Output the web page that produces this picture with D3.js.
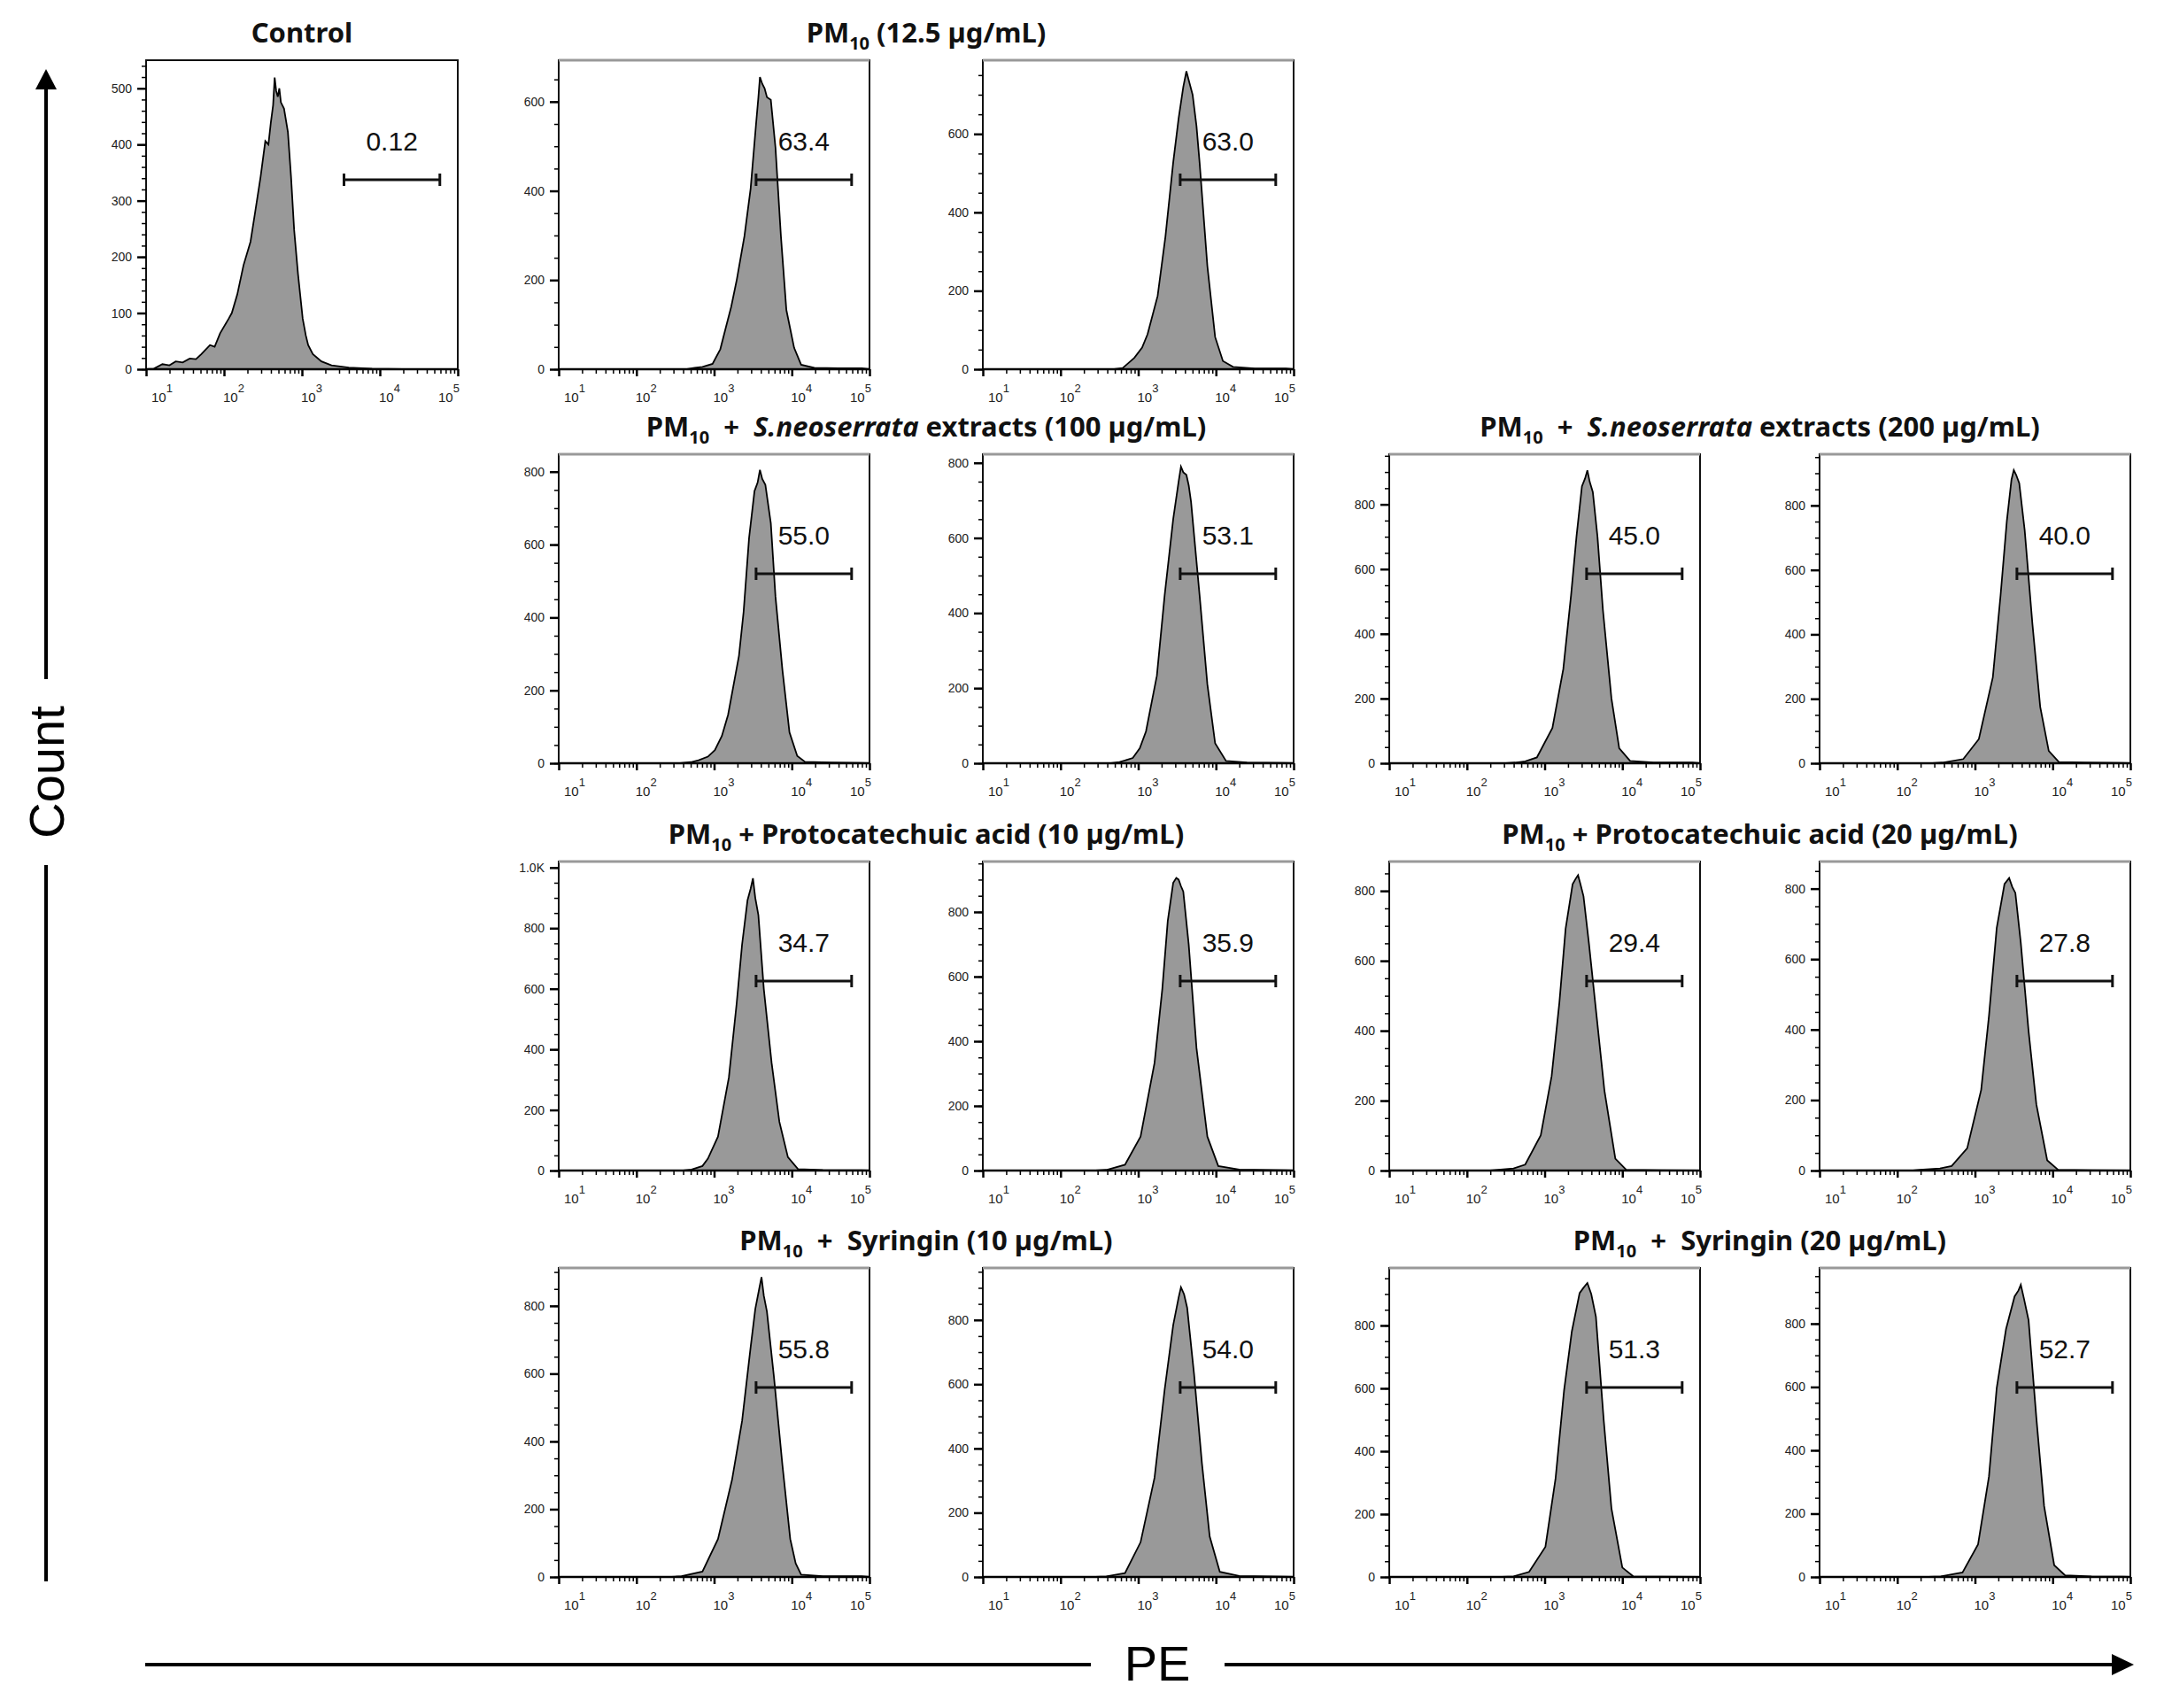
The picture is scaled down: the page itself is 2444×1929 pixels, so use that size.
<!DOCTYPE html>
<html>
<head>
<meta charset="utf-8">
<script src="https://cdn.jsdelivr.net/npm/d3@7"></script>
<style>
  body { margin: 0; background: #fff; }
  text { font-family: "Liberation Sans", Arial, sans-serif; }
  .title { font-family: "Noto Sans", sans-serif; font-weight: bold; font-size: 31px; white-space: pre; }
  .tick text { font-size: 14px; fill: #222; }
</style>
</head>
<body>
<div id="chart"></div>
<script>
// histogram curves: [log10(PE), count]
var hControl = [[1,0],[1.10,1],[1.21,9],[1.30,7],[1.38,14],[1.47,12],[1.56,19],[1.64,18],[1.71,27],[1.82,43],[1.88,40],[1.95,64],[2.06,90],[2.10,100],[2.17,133],[2.25,185],[2.34,227],[2.40,280],[2.47,343],[2.53,406],[2.57,400],[2.60,438],[2.63,470],[2.65,519],[2.67,495],[2.69,485],[2.71,500],[2.73,475],[2.77,464],[2.82,422],[2.86,343],[2.90,248],[2.95,169],[3.01,90],[3.05,60],[3.08,43],[3.14,27],[3.25,14],[3.38,7],[3.60,3],[3.90,1],[4.3,0],[5,0]];
var hPM10a = [[1,0],[2.65,0],[2.75,3],[2.85,5],[2.98,12],[3.08,45],[3.15,93],[3.22,140],[3.29,199],[3.39,298],[3.47,405],[3.54,550],[3.57,610],[3.59,655],[3.62,640],[3.65,630],[3.68,610],[3.73,604],[3.79,497],[3.86,298],[3.93,133],[4.03,48],[4.12,10],[4.29,3],[4.6,2],[4.9,2],[5,0]];
var hPM10b = [[1,0],[2.69,0],[2.80,3],[2.95,29],[3.05,55],[3.12,89],[3.25,187],[3.35,338],[3.45,527],[3.52,640],[3.58,720],[3.62,760],[3.66,730],[3.70,700],[3.75,620],[3.79,527],[3.89,263],[3.99,82],[4.09,21],[4.22,6],[4.5,2],[4.9,2],[5,0]];
var hSn100a = [[1,0],[2.56,0],[2.70,3],[2.80,8],[2.92,18],[3.01,36],[3.10,75],[3.18,133],[3.32,295],[3.38,416],[3.45,618],[3.52,747],[3.56,770],[3.59,805],[3.62,780],[3.66,764],[3.73,659],[3.79,457],[3.88,255],[3.97,85],[4.07,20],[4.17,4],[4.5,2],[4.9,1],[5,0]];
var hSn100b = [[1,0],[2.65,0],[2.76,3],[2.93,14],[3.02,40],[3.10,85],[3.24,233],[3.34,447],[3.45,650],[3.52,750],[3.55,790],[3.58,775],[3.62,768],[3.65,740],[3.68,696],[3.79,447],[3.89,210],[3.99,53],[4.13,6],[4.4,2],[4.9,1],[5,0]];
var hSn200a = [[1,0],[2.50,0],[2.62,2],[2.75,6],[2.90,18],[3.10,109],[3.24,291],[3.34,519],[3.41,701],[3.48,856],[3.52,880],[3.55,905],[3.58,870],[3.62,838],[3.68,701],[3.75,474],[3.86,200],[3.96,46],[4.10,7],[4.4,2],[4.9,2],[5,0]];
var hSn200b = [[1,0],[2.45,0],[2.58,2],[2.85,13],[3.05,75],[3.23,267],[3.33,522],[3.41,751],[3.47,880],[3.50,910],[3.53,895],[3.57,869],[3.64,723],[3.74,431],[3.84,175],[3.95,38],[4.08,4],[4.4,2],[4.9,1],[5,0]];
var hPca10a = [[1,0],[2.60,0],[2.71,3],[2.85,15],[2.92,39],[3.05,112],[3.19,307],[3.29,551],[3.36,746],[3.43,892],[3.47,930],[3.50,965],[3.53,900],[3.57,843],[3.64,599],[3.74,356],[3.84,161],[3.95,44],[4.08,5],[4.4,2],[4.9,1],[5,0]];
var hPca10b = [[1,0],[2.45,0],[2.59,2],[2.83,18],[3.03,105],[3.21,333],[3.31,562],[3.38,772],[3.45,890],[3.49,905],[3.52,900],[3.55,880],[3.58,863],[3.65,699],[3.75,379],[3.89,105],[4.03,14],[4.3,3],[4.9,1],[5,0]];
var hPca20a = [[1,0],[2.30,0],[2.40,2],[2.60,6],[2.75,17],[2.95,101],[3.09,270],[3.19,481],[3.27,692],[3.36,819],[3.40,835],[3.43,845],[3.46,820],[3.50,785],[3.57,650],[3.67,439],[3.77,228],[3.91,34],[4.05,2],[4.5,1],[5,0]];
var hPca20b = [[1,0],[2.20,0],[2.29,2],[2.55,6],[2.70,13],[2.90,63],[3.08,229],[3.18,438],[3.28,688],[3.38,813],[3.44,830],[3.48,805],[3.52,788],[3.59,646],[3.69,396],[3.79,188],[3.93,29],[4.07,2],[4.5,1],[5,0]];
var hSyr10a = [[1,0],[2.45,0],[2.58,2],[2.85,16],[3.05,112],[3.23,286],[3.36,460],[3.47,678],[3.53,791],[3.58,850],[3.61,885],[3.64,830],[3.68,783],[3.77,591],[3.88,329],[3.98,112],[4.05,40],[4.12,7],[4.4,2],[4.9,2],[5,0]];
var hSyr10b = [[1,0],[2.45,0],[2.59,2],[2.83,12],[3.03,108],[3.21,309],[3.34,583],[3.45,784],[3.52,870],[3.55,902],[3.59,880],[3.63,838],[3.72,628],[3.82,354],[3.92,126],[4.05,16],[4.3,3],[4.9,1],[5,0]];
var hSyr20a = [[1,0],[2.45,0],[2.60,2],[2.80,16],[3.01,96],[3.14,312],[3.25,593],[3.35,781],[3.45,903],[3.50,920],[3.55,935],[3.60,900],[3.66,828],[3.76,500],[3.86,218],[4.00,30],[4.14,2],[4.5,1],[5,0]];
var hSyr20b = [[1,0],[2.40,0],[2.56,2],[2.84,14],[3.04,103],[3.18,317],[3.28,597],[3.40,783],[3.51,886],[3.56,905],[3.59,923],[3.63,880],[3.69,811],[3.79,503],[3.89,224],[4.02,37],[4.16,5],[4.5,2],[4.9,1],[5,0]];

// gated percentages
var gateValues = ["0.12", "63.4", "63.0", "55.0", "53.1", "45.0", "40.0",
                  "34.7", "35.9", "29.4", "27.8", "55.8", "54.0", "51.3", "52.7"];
// gate range in log10(PE)
var gateRange = [3.54, 4.77];

// y axis maximum and tick labels of each panel
var yMax = [550, 693, 788, 848, 823, 955, 959, 1020, 956, 884, 877, 912, 962, 983, 976];
var yTicks = [
  [0, 100, 200, 300, 400, 500],
  [0, 200, 400, 600], [0, 200, 400, 600],
  [0, 200, 400, 600, 800], [0, 200, 400, 600, 800],
  [0, 200, 400, 600, 800], [0, 200, 400, 600, 800],
  [0, 200, 400, 600, 800, 1000], [0, 200, 400, 600, 800],
  [0, 200, 400, 600, 800], [0, 200, 400, 600, 800],
  [0, 200, 400, 600, 800], [0, 200, 400, 600, 800],
  [0, 200, 400, 600, 800], [0, 200, 400, 600, 800]
];
var yMinorStep = [20, 50, 50, 50, 50, 50, 50, 50, 50, 50, 50, 50, 50, 50, 50];
var xTickExp = [1, 2, 3, 4, 5];

// group titles: [text, style] segments
var titles = [
  [["Control", ""]],
  [["PM", ""], ["10", "sub"], [" (12.5 \u00b5g/mL)", ""]],
  [["PM", ""], ["10", "sub"], ["  +  ", ""], ["S.neoserrata", "it"], [" extracts (100 \u00b5g/mL)", ""]],
  [["PM", ""], ["10", "sub"], ["  +  ", ""], ["S.neoserrata", "it"], [" extracts (200 \u00b5g/mL)", ""]],
  [["PM", ""], ["10", "sub"], [" + Protocatechuic acid (10 \u00b5g/mL)", ""]],
  [["PM", ""], ["10", "sub"], [" + Protocatechuic acid (20 \u00b5g/mL)", ""]],
  [["PM", ""], ["10", "sub"], ["  +  Syringin (10 \u00b5g/mL)", ""]],
  [["PM", ""], ["10", "sub"], ["  +  Syringin (20 \u00b5g/mL)", ""]]
];

var hists = [hControl, hPM10a, hPM10b, hSn100a, hSn100b, hSn200a, hSn200b,
             hPca10a, hPca10b, hPca20a, hPca20b, hSyr10a, hSyr10b, hSyr20a, hSyr20b];

// layout
var svgWidth = 2444;
var svgHeight = 1929;
var colX = [631, 1110, 1569, 2055];
var rowTop = [68, 513, 973, 1432];
var panelW = 351;
var panelH = 349;

// panel index -> [x, top, width]
var panelPos = [[165, 68, 352]];
var gridCells = [[0,0],[0,1],[1,0],[1,1],[1,2],[1,3],[2,0],[2,1],[2,2],[2,3],[3,0],[3,1],[3,2],[3,3]];
gridCells.forEach(function(c) {
  panelPos.push([colX[c[1]], rowTop[c[0]], panelW]);
});
// title -> panels it spans
var titleSpan = [[0, 0], [1, 2], [3, 4], [5, 6], [7, 8], [9, 10], [11, 12], [13, 14]];

var svg = d3.select("#chart")
  .append("svg")
  .attr("width", svgWidth)
  .attr("height", svgHeight);

function drawPanel(i) {
  var pos = panelPos[i];
  var w = pos[2];
  var h = panelH;
  var g = svg.append("g").attr("transform", `translate(${pos[0]}, ${pos[1]})`);

  var xScale = d3.scaleLog().domain([10, 1e5]).range([0, w]);
  var yScale = d3.scaleLinear().domain([0, yMax[i]]).range([h, 0]);

  var area = d3.area()
    .x(d => xScale(Math.pow(10, d[0])))
    .y0(h)
    .y1(d => yScale(d[1]));
  var line = d3.line()
    .x(d => xScale(Math.pow(10, d[0])))
    .y(d => yScale(d[1]));

  g.append("path")
    .datum(hists[i])
    .attr("d", area)
    .attr("fill", "#999");
  g.append("path")
    .datum(hists[i])
    .attr("d", line)
    .attr("fill", "none")
    .attr("stroke", "#000")
    .attr("stroke-width", 1.8);

  // frame
  g.append("rect")
    .attr("width", w)
    .attr("height", h)
    .attr("fill", "none")
    .attr("stroke", "#111")
    .attr("stroke-width", 2);
  if (i > 0) {
    g.append("line")
      .attr("x1", 0).attr("x2", w)
      .attr("y1", 0).attr("y2", 0)
      .attr("stroke", "#999")
      .attr("stroke-width", 3);
  }

  // y axis
  var leftAxis = d3.axisLeft(yScale)
    .tickValues(yTicks[i])
    .tickSize(10)
    .tickPadding(6)
    .tickFormat(v => v >= 1000 ? (v / 1000).toFixed(1) + "K" : v);
  var yAxis = g.append("g").call(leftAxis);
  yAxis.select(".domain").remove();
  yAxis.selectAll("line").attr("stroke-width", 2.5);

  var leftMinor = d3.axisLeft(yScale)
    .tickValues(d3.range(0, yMax[i], yMinorStep[i]))
    .tickSize(5)
    .tickFormat("");
  var yMinor = g.append("g").call(leftMinor);
  yMinor.select(".domain").remove();
  yMinor.selectAll("line").attr("stroke-width", 1.5);

  // x axis
  var majors = xTickExp.map(e => Math.pow(10, e));
  var minors = [];
  xTickExp.slice(0, 4).forEach(function(e) {
    d3.range(2, 10).forEach(m => minors.push(m * Math.pow(10, e)));
  });
  var bottomAxis = d3.axisBottom(xScale).tickValues(majors).tickSize(8).tickFormat("");
  var xAxis = g.append("g").attr("transform", `translate(0, ${h})`).call(bottomAxis);
  xAxis.select(".domain").remove();
  xAxis.selectAll("line").attr("stroke-width", 2.5);
  var bottomMinor = d3.axisBottom(xScale).tickValues(minors).tickSize(5).tickFormat("");
  var xMinor = g.append("g").attr("transform", `translate(0, ${h})`).call(bottomMinor);
  xMinor.select(".domain").remove();
  xMinor.selectAll("line").attr("stroke-width", 1.5);

  g.append("line")
    .attr("x1", 0).attr("x2", w)
    .attr("y1", h).attr("y2", h)
    .attr("stroke", "#000")
    .attr("stroke-width", 2.5);

  // decade labels 10^n
  var labelShift = [6, -1, -1, -1, -22];
  xTickExp.forEach(function(e, k) {
    var t = g.append("text")
      .attr("x", xScale(Math.pow(10, e)) + labelShift[k])
      .attr("y", h + 37)
      .attr("font-size", 15)
      .attr("fill", "#222");
    t.append("tspan").text("10");
    t.append("tspan").attr("dy", -11).attr("font-size", 13).text(e);
  });

  // gate
  var gy = h - 214;
  var gx1 = xScale(Math.pow(10, gateRange[0]));
  var gx2 = xScale(Math.pow(10, gateRange[1]));
  var gate = g.append("g").attr("stroke", "#111").attr("stroke-width", 3);
  gate.append("line").attr("x1", gx1).attr("x2", gx2).attr("y1", gy).attr("y2", gy);
  gate.append("line").attr("x1", gx1).attr("x2", gx1).attr("y1", gy - 7).attr("y2", gy + 7);
  gate.append("line").attr("x1", gx2).attr("x2", gx2).attr("y1", gy - 7).attr("y2", gy + 7);
  g.append("text")
    .attr("x", (gx1 + gx2) / 2)
    .attr("y", gy - 33)
    .attr("text-anchor", "middle")
    .attr("font-size", 30)
    .attr("fill", "#111")
    .text(gateValues[i]);
}

hists.forEach(function(h, i) { drawPanel(i); });

// group titles
titles.forEach(function(parts, k) {
  var a = panelPos[titleSpan[k][0]];
  var b = panelPos[titleSpan[k][1]];
  var cx = (a[0] + b[0] + b[2]) / 2;
  var t = svg.append("text")
    .attr("class", "title")
    .attr("xml:space", "preserve")
    .attr("x", cx)
    .attr("y", a[1] - 20)
    .attr("text-anchor", "middle")
    .attr("fill", "#111");
  var shifted = false;
  parts.forEach(function(p) {
    var s = t.append("tspan").text(p[0]);
    if (p[1] === "sub") {
      s.attr("font-size", 20).attr("dy", 8);
      shifted = true;
    } else {
      if (shifted) { s.attr("dy", -8); shifted = false; }
      if (p[1] === "it") s.attr("font-style", "italic");
    }
  });
});

// axis titles with arrows
var arrows = svg.append("g").attr("stroke", "#000").attr("stroke-width", 4);
arrows.append("line").attr("x1", 52).attr("x2", 52).attr("y1", 1786).attr("y2", 977);
arrows.append("line").attr("x1", 52).attr("x2", 52).attr("y1", 767).attr("y2", 98);
arrows.append("line").attr("x1", 164).attr("x2", 1232).attr("y1", 1880).attr("y2", 1880);
arrows.append("line").attr("x1", 1383).attr("x2", 2388).attr("y1", 1880).attr("y2", 1880);
svg.append("path").attr("d", "M52,78 L40,101 L64,101 Z").attr("fill", "#000");
svg.append("path").attr("d", "M2410,1880 L2385,1868 L2385,1892 Z").attr("fill", "#000");

svg.append("text")
  .attr("transform", "translate(72, 872) rotate(-90)")
  .attr("text-anchor", "middle")
  .attr("font-size", 56)
  .attr("fill", "#000")
  .text("Count");
svg.append("text")
  .attr("x", 1307)
  .attr("y", 1898)
  .attr("text-anchor", "middle")
  .attr("font-size", 56)
  .attr("fill", "#000")
  .text("PE");
</script>
</body>
</html>
